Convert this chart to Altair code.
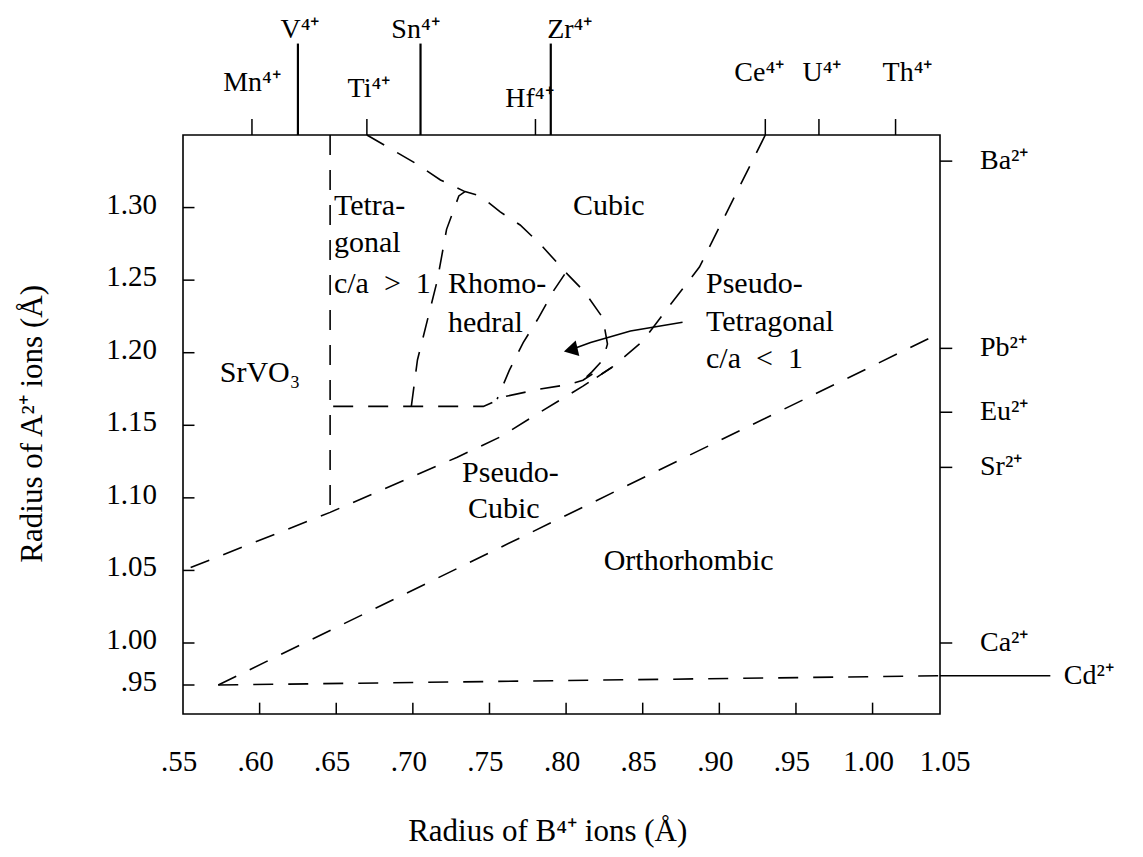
import altair as alt
import pandas as pd

FONT = "Liberation Serif"
NB = "\u00a0"

# ---------------- axis values ----------------
x_ticks = [0.55, 0.60, 0.65, 0.70, 0.75, 0.80, 0.85, 0.90, 0.95, 1.00, 1.05]
x_tick_labels = [".55", ".60", ".65", ".70", ".75", ".80", ".85", ".90", ".95", "1.00", "1.05"]
y_ticks = [0.95, 1.00, 1.05, 1.10, 1.15, 1.20, 1.25, 1.30]
y_tick_labels = [".95", "1.00", "1.05", "1.10", "1.15", "1.20", "1.25", "1.30"]

# B4+ ions (top) and A2+ ions (right)
b_ions = ["Mn⁴⁺", "V⁴⁺", "Ti⁴⁺", "Sn⁴⁺", "Hf⁴⁺", "Zr⁴⁺", "Ce⁴⁺", "U⁴⁺", "Th⁴⁺"]
b_radii = [0.595, 0.625, 0.67, 0.705, 0.78, 0.79, 0.93, 0.965, 1.015]
b_long = [False, True, False, True, False, True, False, False, False]
b_label_y = [1.380, 1.417, 1.376, 1.417, 1.369, 1.417, 1.387, 1.387, 1.387]
b_label_dx = [0, 2, 2, -5, -6, 19, -6, 3, 12]

a_ions = ["Ba²⁺", "Pb²⁺", "Eu²⁺", "Sr²⁺", "Ca²⁺", "Cd²⁺"]
a_radii = [1.332, 1.203, 1.159, 1.121, 1.000, 0.961]

# ---------------- phase boundaries (dashed) ----------------
cd_x = [0.573, 1.044]
cd_y = [0.950, 0.961]
ortho_x = [0.573, 1.041]
ortho_y = [0.950, 1.212]
pcub_x = [0.555, 0.646, 0.729, 0.757, 0.783, 0.811, 0.830]
pcub_y = [1.052, 1.090, 1.128, 1.142, 1.159, 1.177, 1.190]
vert_x = [0.646, 0.646]
vert_y = [1.350, 1.090]
tetb_x = [0.648, 0.746, 0.761, 0.783, 0.801, 0.811, 0.821]
tetb_y = [1.163, 1.163, 1.170, 1.175, 1.178, 1.181, 1.188]
rhl_x = [0.699, 0.703, 0.716, 0.722, 0.730, 0.734]
rhl_y = [1.163, 1.195, 1.250, 1.285, 1.308, 1.311]
cub_x = [0.670, 0.701, 0.718, 0.734, 0.744, 0.757, 0.770, 0.783, 0.801, 0.812, 0.824, 0.827, 0.824, 0.817, 0.811]
cub_y = [1.350, 1.331, 1.319, 1.311, 1.308, 1.297, 1.288, 1.275, 1.254, 1.242, 1.224, 1.206, 1.195, 1.187, 1.181]
rhr_x = [0.799, 0.792, 0.782, 0.772, 0.763, 0.757, 0.755]
rhr_y = [1.254, 1.243, 1.224, 1.207, 1.188, 1.173, 1.168]
ce_x = [0.930, 0.887, 0.868, 0.850, 0.830, 0.820]
ce_y = [1.350, 1.259, 1.233, 1.208, 1.190, 1.183]
arrow_x = [0.876, 0.842, 0.816, 0.803]
arrow_y = [1.221, 1.215, 1.207, 1.202]

boundaries = {
    "cd": (cd_x, cd_y), "ortho": (ortho_x, ortho_y), "pcub": (pcub_x, pcub_y),
    "vert": (vert_x, vert_y), "tetb": (tetb_x, tetb_y), "rhl": (rhl_x, rhl_y),
    "cub": (cub_x, cub_y), "rhr": (rhr_x, rhr_y), "ce": (ce_x, ce_y),
}

# region labels
reg_text = ["SrVO₃", "Tetra-", "gonal", "c/a" + NB * 2 + ">" + NB * 2 + "1", "Rhomo-", "hedral", "Cubic",
            "Pseudo-", "Tetragonal", "c/a" + NB * 2 + "<" + NB * 2 + "1", "Pseudo-", "Cubic", "Orthorhombic"]
reg_x = [0.574, 0.6485, 0.6485, 0.6485, 0.7229, 0.7229, 0.8045,
         0.8913, 0.8913, 0.8913, 0.7321, 0.736, 0.8245]
reg_y = [1.180, 1.2952, 1.2697, 1.2414, 1.2414, 1.2145, 1.2952,
         1.2414, 1.2152, 1.1897, 1.111, 1.0862, 1.050]

# ---------------- scales ----------------
X_DOM = [0.55, 1.044]
Y_DOM = [0.9155, 0.95, 1.00, 1.35]
Y_RNG = [579, 550, 508, 0]
xs = alt.Scale(domain=X_DOM, nice=False, zero=False)
ys = alt.Scale(domain=Y_DOM, range=Y_RNG, nice=False, zero=False)

def X(f="x"):
    return alt.X(f, type="quantitative", scale=xs, axis=None)

def Y(f="y"):
    return alt.Y(f, type="quantitative", scale=ys, axis=None)

rows = []
for name, (lx, ly) in boundaries.items():
    for i, (a, b) in enumerate(zip(lx, ly)):
        rows.append({"line": name, "o": i, "x": a, "y": b})
bdf = pd.DataFrame(rows)

dashed = alt.Chart(bdf).mark_line(
    color="black", strokeWidth=1.6, strokeDash=[20, 15], clip=False
).encode(x=X(), y=Y(), detail="line:N", order="o:Q")

adf = pd.DataFrame({"x": arrow_x, "y": arrow_y, "o": list(range(len(arrow_x)))})
arrow = alt.Chart(adf).mark_line(color="black", strokeWidth=1.6).encode(
    x=X(), y=Y(), order="o:Q")
head = alt.Chart(adf.tail(1)).mark_point(
    shape="triangle-left", filled=True, color="black", size=260, angle=347, opacity=1
).encode(x=X(), y=Y())

# ---- ticks ----
ydf = pd.DataFrame({"y": y_ticks, "lab": y_tick_labels})
left_ticks = alt.Chart(ydf).mark_rule(color="black", strokeWidth=1.5).encode(
    x=alt.X("x0:Q", scale=xs, axis=None), x2="x1:Q", y=Y()
).transform_calculate(x0="0.55", x1="0.5575")
left_labels = alt.Chart(ydf).mark_text(
    font=FONT, fontSize=29, align="right", baseline="middle", dx=-26, dy=-3
).encode(x=alt.X("x0:Q", scale=xs, axis=None), y=Y(), text="lab:N").transform_calculate(x0="0.55")

xdf = pd.DataFrame({"x": x_ticks, "lab": x_tick_labels})
bottom_ticks = alt.Chart(xdf[(xdf.x > 0.56) & (xdf.x < 1.04)]).mark_rule(
    color="black", strokeWidth=1.5).encode(
    x=X(), y=alt.Y("y0:Q", scale=ys, axis=None), y2="y1:Q"
).transform_calculate(y0="0.9155", y1="0.929")
bottom_labels = alt.Chart(xdf).mark_text(
    font=FONT, fontSize=29, align="center", baseline="middle", dx=-4
).encode(x=X(), y=alt.Y("y0:Q", scale=ys, axis=None), text="lab:N").transform_calculate(y0="0.858")

bdf_ions = pd.DataFrame({"x": b_radii, "lab": b_ions, "long": b_long,
                         "ly": b_label_y, "dx": b_label_dx})
top_short = alt.Chart(bdf_ions[~bdf_ions["long"]]).mark_rule(
    color="black", strokeWidth=1.5).encode(
    x=X(), y=alt.Y("y0:Q", scale=ys, axis=None), y2="y1:Q"
).transform_calculate(y0="1.35", y1="1.361")
top_long = alt.Chart(bdf_ions[bdf_ions["long"]]).mark_rule(
    color="black", strokeWidth=2.2).encode(
    x=X(), y=alt.Y("y0:Q", scale=ys, axis=None), y2="y1:Q"
).transform_calculate(y0="1.35", y1="1.413")
top_labels = []
for _, r in bdf_ions.iterrows():
    top_labels.append(
        alt.Chart(pd.DataFrame([r])).mark_text(
            font=FONT, fontSize=28, align="center", baseline="alphabetic", dx=int(r["dx"])
        ).encode(x=X(), y=alt.Y("ly:Q", scale=ys, axis=None), text="lab:N")
    )

adf_ions = pd.DataFrame({"y": a_radii, "lab": a_ions})
right_ticks = alt.Chart(adf_ions[adf_ions.lab != "Cd²⁺"]).mark_rule(
    color="black", strokeWidth=1.5).encode(
    x=alt.X("x0:Q", scale=xs, axis=None), x2="x1:Q", y=Y()
).transform_calculate(x0="1.044", x1="1.052")
cd_rule = alt.Chart(adf_ions[adf_ions.lab == "Cd²⁺"]).mark_rule(
    color="black", strokeWidth=1.3).encode(
    x=alt.X("x0:Q", scale=xs, axis=None), x2="x1:Q", y=Y()
).transform_calculate(x0="1.044", x1="1.116")
right_labels = alt.Chart(adf_ions[adf_ions.lab != "Cd²⁺"]).mark_text(
    font=FONT, fontSize=28, align="left", baseline="middle", dx=40
).encode(x=alt.X("x0:Q", scale=xs, axis=None), y=Y(), text="lab:N").transform_calculate(x0="1.044")
cd_label = alt.Chart(adf_ions[adf_ions.lab == "Cd²⁺"]).mark_text(
    font=FONT, fontSize=28, align="left", baseline="middle", dx=14
).encode(x=alt.X("x0:Q", scale=xs, axis=None), y=Y(), text="lab:N").transform_calculate(x0="1.1156")

rdf = pd.DataFrame({"x": reg_x, "y": reg_y, "lab": reg_text})
regions = alt.Chart(rdf).mark_text(
    font=FONT, fontSize=30, align="left", baseline="alphabetic"
).encode(x=X(), y=Y(), text="lab:N")

titles = pd.DataFrame({"x": [0.7880, 0.452], "y": [0.775, 1.151],
                       "lab": ["Radius of B⁴⁺ ions (Å)", "Radius of A²⁺ ions (Å)"]})
t_bottom = alt.Chart(titles.head(1)).mark_text(
    font=FONT, fontSize=31, align="center", baseline="middle"
).encode(x=X(), y=Y(), text="lab:N")
t_left = alt.Chart(titles.tail(1)).mark_text(
    font=FONT, fontSize=31, align="center", baseline="middle", angle=270
).encode(x=X(), y=Y(), text="lab:N")

chart = alt.layer(
    dashed, arrow, head, left_ticks, left_labels, bottom_ticks, bottom_labels,
    top_short, top_long, *top_labels, right_ticks, cd_rule, right_labels, cd_label,
    regions, t_bottom, t_left
).properties(
    width=757, height=579,
    padding={"left": 175, "top": 127, "right": 195, "bottom": 143},
    autosize=alt.AutoSizeParams(type="none"),
    background="white",
).configure_view(stroke="black", strokeWidth=1.6)

chart.save("out.html", embed_options={"renderer": "svg", "actions": False})
